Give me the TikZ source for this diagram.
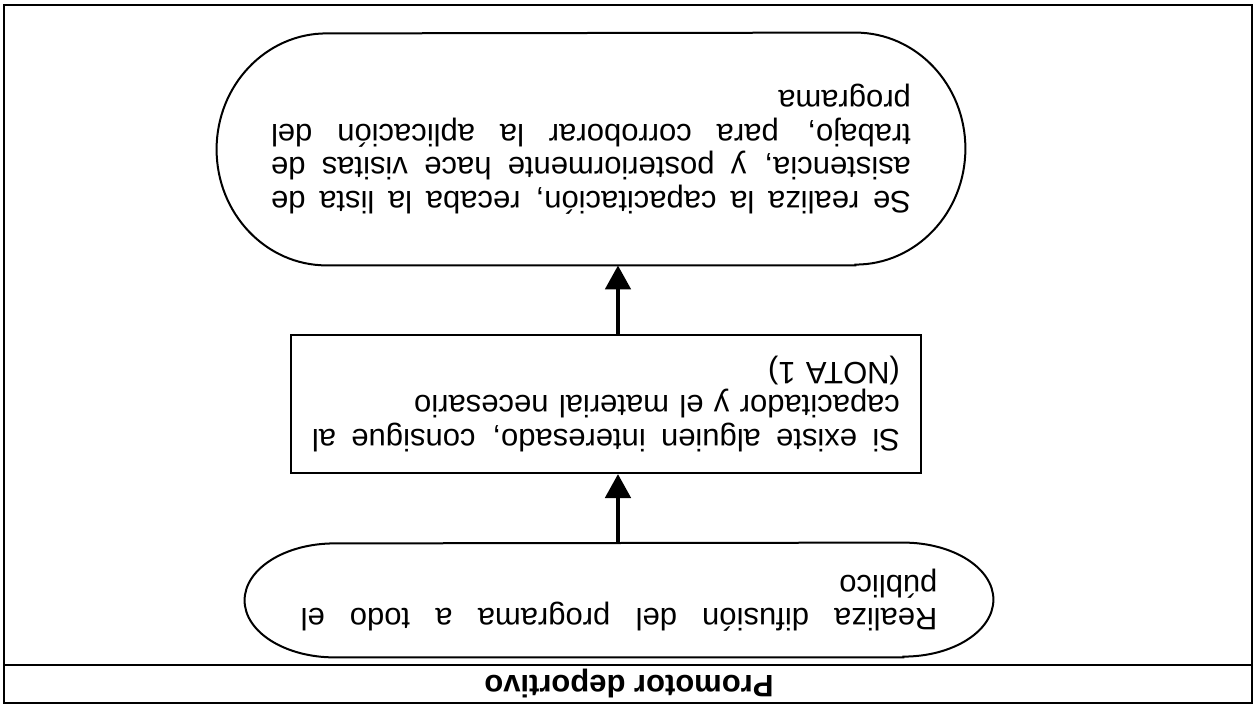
\documentclass[tikz,border=0pt]{standalone}
\usepackage{fontspec}
\setmainfont{Liberation Sans}
\usetikzlibrary{arrows.meta,calc}
\newcommand{\renglon}[1]{\makebox[\linewidth][s]{\spaceskip=.28em plus 1fil\relax #1}}

\begin{document}
\begin{tikzpicture}[x=0.5pt, y=0.5pt, rotate=180, transform shape,
    font=\fontsize{15.5}{16.8}\selectfont,
    borde/.style={line width=1pt},
    paso/.style={inner sep=0pt, minimum width=374pt},
    caja/.style={draw, line width=1pt, inner sep=0pt},
    flecha/.style={line width=2.4pt, -{Triangle[width=12.5pt,length=12pt]}}]
    \useasboundingbox (0,0) rectangle (1257,705);

    % Frame and header
    \draw[line width=0.8pt] (5,5) rectangle (1253,703);
    \draw[line width=0.8pt] (5,665) -- (1253,665);
    \node[font=\fontsize{15.5}{16.8}\selectfont\bfseries] (titulo) at (628,684) {Promotor deportivo};

    % Steps
    \node[paso, minimum height=57pt, text width=318.5pt] (difusion) at (638,600)
        {\renglon{Realiza difusi\'on del programa a todo el}\\ p\'ublico};
    \node[caja, minimum width=315pt, minimum height=69pt, text width=294pt] (contacto) at (651,404)
        {\renglon{Si existe alguien interesado, consigue al}\\ capacitador y el material necesario\\ (NOTA 1)};
    \node[paso, minimum height=116pt, text width=320pt] (capacitacion) at (666,149)
        {\renglon{Se realiza la capacitaci\'on, recaba la lista de}\\
         \renglon{asistencia, y posteriormente hace visitas de}\\
         \renglon{trabajo, para corroborar la aplicaci\'on del}\\ programa};

    % Rounded outlines
    \foreach \n/\rx/\ry in {difusion/90/57, capacitacion/110/116}
        \draw[borde] ($(\n.north west)+(\rx,0)$) -- ($(\n.north east)-(\rx,0)$)
            arc[start angle=90, end angle=-90, x radius=\rx, y radius=\ry]
            -- ($(\n.south west)+(\rx,0)$)
            arc[start angle=270, end angle=90, x radius=\rx, y radius=\ry] -- cycle;

    % Arrows
    \coordinate (eje) at (639,0);
    \draw[flecha] (difusion.south -| eje) -- (contacto.north -| eje);
    \draw[flecha] (contacto.south -| eje) -- (capacitacion.north -| eje);
\end{tikzpicture}
\end{document}
